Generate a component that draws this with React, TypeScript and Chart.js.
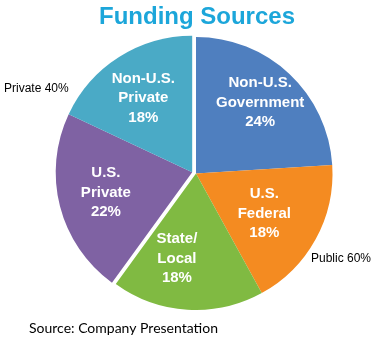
import React, { useEffect, useRef } from "react";
import { Chart, registerables } from "chart.js";

Chart.register(...registerables);

const TITLE = "Funding Sources";
const SOURCE = "Source: Company Presentation";
const categories = ["Non-U.S.\nGovernment", "U.S.\nFederal", "State/\nLocal", "U.S.\nPrivate", "Non-U.S.\nPrivate"];
const values = [24, 18, 18, 22, 18];
const groups = ["Public", "Public", "Public", "Private", "Private"];
const groupLabels = ["Public 60%", "Private 40%"];
const colors = ["#4F7FBF", "#F48B21", "#80BA42", "#7F62A3", "#4AAAC6"];
const labelRadius = [0.7, 0.58, 0.64, 0.65, 0.65];
const labelAngleShift = [-1, 1.5, 9, 1, -1];
const EXPLODE = 4;

const explodePlugin = {
  id: "groupExplode",
  afterDatasetsUpdate(chart: any) {
    const meta = chart.getDatasetMeta(0);
    const total = values.reduce((a, b) => a + b, 0);
    let start = 0;
    let pStart = -1, pEnd = 0;
    values.forEach((v, i) => {
      if (groups[i] === "Private") {
        if (pStart < 0) pStart = start;
        pEnd = start + v;
      }
      start += v;
    });
    const mid = ((pStart + pEnd) / 2 / total) * Math.PI * 2 - Math.PI / 2;
    const dx = Math.cos(mid) * EXPLODE;
    const dy = Math.sin(mid) * EXPLODE;
    meta.data.forEach((el: any, i: number) => {
      if (groups[i] === "Private") {
        el.x += dx;
        el.y += dy;
      }
    });
  },
};

const textPlugin = {
  id: "texts",
  afterDatasetsDraw(chart: any) {
    const ctx = chart.ctx;
    const meta = chart.getDatasetMeta(0);
    ctx.save();
    ctx.textAlign = "center";
    ctx.textBaseline = "middle";
    meta.data.forEach((el: any, i: number) => {
      const p = el.getProps(["x", "y", "startAngle", "endAngle", "outerRadius"], true);
      const a = (p.startAngle + p.endAngle) / 2 + (labelAngleShift[i] * Math.PI) / 180;
      const r = p.outerRadius * labelRadius[i];
      const cx = p.x + Math.cos(a) * r;
      const cy = p.y + Math.sin(a) * r;
      const lines = [...categories[i].split("\n"), values[i] + "%"];
      ctx.fillStyle = "#ffffff";
      ctx.font = "bold 15px 'Liberation Sans', Arial, sans-serif";
      const lh = 19.5;
      lines.forEach((ln, k) => {
        ctx.fillText(ln, cx, cy + (k - (lines.length - 1) / 2) * lh);
      });
    });
    // title
    ctx.fillStyle = "#1CA6DA";
    ctx.font = "bold 24px 'Liberation Sans', Arial, sans-serif";
    ctx.textBaseline = "alphabetic";
    ctx.fillText(TITLE, 197, 24);
    // group labels
    ctx.fillStyle = "#000000";
    ctx.font = "12px 'Liberation Sans', Arial, sans-serif";
    ctx.textAlign = "left";
    ctx.textBaseline = "middle";
    ctx.fillText(groupLabels[0], 311, 259);
    ctx.fillText(groupLabels[1], 4, 89);
    // source
    ctx.font = "14px Lato, 'Open Sans', sans-serif";
    ctx.fillText(SOURCE, 29, 328);
    ctx.restore();
  },
};

export default function App() {
  const ref = useRef<HTMLCanvasElement>(null);
  useEffect(() => {
    if (!ref.current) return;
    const chart = new Chart(ref.current, {
      type: "pie",
      data: {
        labels: categories.map((c) => c.replace("\n", " ")),
        datasets: [
          {
            data: values,
            backgroundColor: colors,
            borderWidth: 0,
          },
        ],
      },
      options: {
        animation: false,
        responsive: true,
        maintainAspectRatio: false,
        layout: { padding: { left: 59.5, top: 37, right: 50.5, bottom: 41 } },
        plugins: {
          legend: { display: false },
          tooltip: { enabled: false },
          title: { display: false },
        },
      },
      plugins: [explodePlugin, textPlugin],
    });
    return () => chart.destroy();
  }, []);
  return (
    <div style={{ position: "fixed", left: 0, top: 0, width: 383, height: 351, background: "#fff" }}>
      <canvas ref={ref} />
    </div>
  );
}
